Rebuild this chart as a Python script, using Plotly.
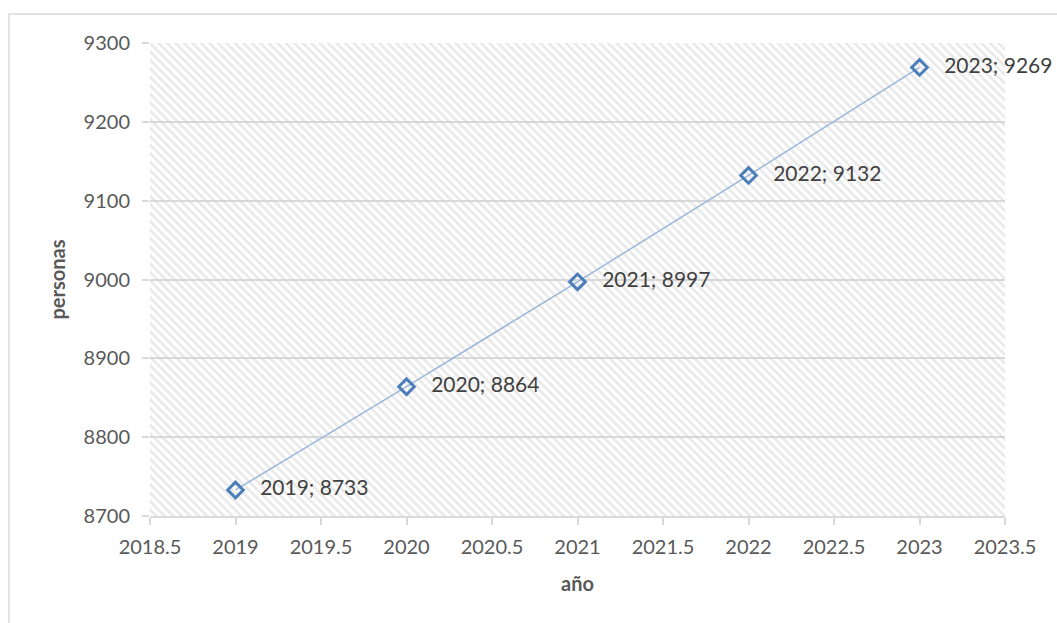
import plotly.graph_objects as go

# Population by year
years = [2019, 2020, 2021, 2022, 2023]
personas = [8733, 8864, 8997, 9132, 9269]

x_range = [2018.5, 2023.5]
y_range = [8700, 9300]

pad = "\u00a0" * 3
labels = [f"{pad}{a}; {b}" for a, b in zip(years, personas)]

font_family = "Lato, 'Open Sans', sans-serif"
grid_col = "#d9d9d9"

fig = go.Figure()

# Hatched plot-area background
fig.add_trace(go.Scatter(
    x=[x_range[0], x_range[1], x_range[1], x_range[0], x_range[0]],
    y=[y_range[0], y_range[0], y_range[1], y_range[1], y_range[0]],
    mode="none",
    fill="toself",
    fillcolor="rgba(0,0,0,0)",
    fillpattern=dict(shape="\\", size=6, solidity=0.45,
                     fgcolor="#d4d4d4", bgcolor="rgba(0,0,0,0)"),
    hoverinfo="skip",
    showlegend=False,
))

fig.add_trace(go.Scatter(
    x=years,
    y=personas,
    mode="lines+markers+text",
    line=dict(color="#9ab7db", width=1.5),
    marker=dict(symbol="diamond-open", size=12,
                color="#4a7ebb", line=dict(color="#4a7ebb", width=3)),
    text=labels,
    textposition="middle right",
    textfont=dict(family=font_family, size=21, color="#404040"),
    cliponaxis=False,
    showlegend=False,
))

fig.update_layout(
    width=1057,
    height=623,
    margin=dict(l=150, r=52, t=43, b=107),
    paper_bgcolor="white",
    plot_bgcolor="white",
    font=dict(family=font_family, size=20, color="#595959"),
    xaxis=dict(
        range=x_range,
        dtick=0.5,
        tick0=2018.5,
        tickformat=".1~f",
        showgrid=False,
        zeroline=False,
        showline=True,
        linecolor=grid_col,
        linewidth=1.5,
        ticks="outside",
        ticklen=7,
        tickcolor=grid_col,
        tickwidth=1.5,
        tickfont=dict(size=20, color="#595959"),
        ticklabelstandoff=5,
        title=dict(text="<b>año</b>", standoff=20,
                   font=dict(size=20, color="#595959")),
    ),
    yaxis=dict(
        range=y_range,
        dtick=100,
        tickformat="d",
        showgrid=True,
        gridcolor=grid_col,
        gridwidth=1.5,
        zeroline=False,
        showline=False,
        ticks="outside",
        ticklen=7,
        tickcolor=grid_col,
        tickwidth=1.5,
        tickfont=dict(size=20, color="#595959"),
        ticklabelstandoff=8,
        title=dict(text="<b>personas</b>", standoff=12,
                   font=dict(size=20, color="#595959")),
    ),
    shapes=[
        dict(type="rect", xref="paper", yref="paper",
             x0=-141 / 855, x1=1.2, y0=-0.3, y1=1 + 29 / 473,
             line=dict(color=grid_col, width=1.5), fillcolor="rgba(0,0,0,0)",
             layer="below"),
    ],
)

fig.write_html("out.html")
